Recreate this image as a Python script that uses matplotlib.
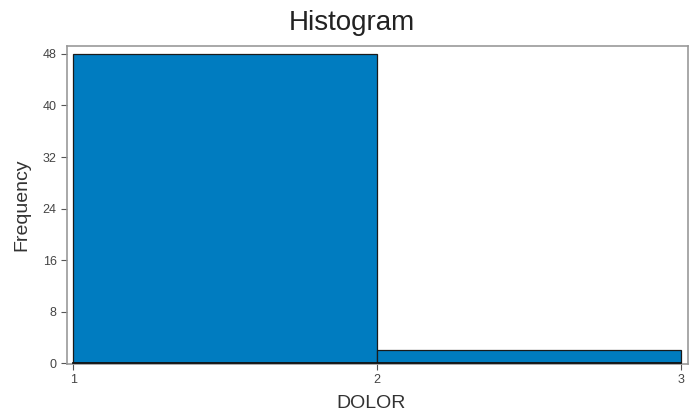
import matplotlib
matplotlib.use("Agg")
import matplotlib.pyplot as plt

# Histogram bins and counts for DOLOR
bin_edges = [1, 2, 3]
counts = [48, 2]
y_ticks = [0, 8, 16, 24, 32, 40, 48]
x_ticks = [1, 2, 3]

plt.rcParams['font.family'] = ['Liberation Sans', 'DejaVu Sans']

fig = plt.figure(figsize=(6.91, 4.13), dpi=100)
ax = fig.add_axes([0.097, 0.119, 0.899, 0.770])

lefts = bin_edges[:-1]
widths = [b - a for a, b in zip(bin_edges[:-1], bin_edges[1:])]
ax.bar(lefts, counts, width=widths, align='edge', color='#007cc0',
       edgecolor='#1a1a1a', linewidth=0.9, zorder=2)
ax.plot([bin_edges[0], bin_edges[-1]], [0, 0], color='#111111',
        linewidth=1.3, zorder=3)

ax.set_xlim(0.98, 3.023)
ax.set_ylim(-0.1, 49.25)
ax.set_xticks(x_ticks)
ax.set_yticks(y_ticks)
ax.tick_params(axis='both', colors='#555555', labelcolor='#444444',
               labelsize=9, length=4, width=0.8, direction='out')

for sp in ax.spines.values():
    sp.set_color('#999999')
    sp.set_linewidth(1.2)

fig.text(0.509, 0.945, 'Histogram', fontsize=20, color='#222222',
         ha='center', va='center')
ax.set_xlabel('DOLOR', fontsize=14, color='#333333')
ax.set_ylabel('Frequency', fontsize=14, color='#333333')
ax.xaxis.set_label_coords((371 - 67) / 621, (363 - 394) / 317)
ax.yaxis.set_label_coords((30 - 67) / 621, 0.5)

fig.savefig('out.png', dpi=100)
